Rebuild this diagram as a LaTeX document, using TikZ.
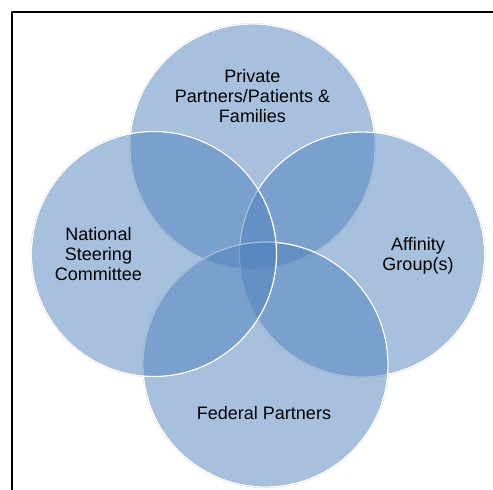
\documentclass[tikz,border=0pt]{standalone}
\usepackage{fontspec}
\setmainfont{Liberation Sans}
\definecolor{vennblue}{RGB}{79,129,189}
\begin{document}
\begin{tikzpicture}[x=1pt,y=-1pt,line join=round,line cap=round]
            \tikzset{label style/.style={font=\fontsize{18}{20}\selectfont,align=center,text=black}}
            \tikzset{ring style/.style={fill=vennblue,fill opacity=0.5}}
            %% khung va ban kinh
            \def \rad{122.5}
            \useasboundingbox (0,0) rectangle (493,490);
            \draw[line width=2pt,line cap=butt] (12,490)--(12,12)--(493,12);
            \coordinate (top) at (252.5,146.5);
            \coordinate (left) at (154,254);
            \coordinate (right) at (362,254.5);
            \coordinate (bottom) at (265.5,364.5);
            \foreach \c in {top,left,right,bottom} \draw[black!20,line width=1.8pt] (\c) circle(\rad);
            \foreach \c in {top,right,bottom,left} {
                \fill[ring style] (\c) circle(\rad);
                \draw[white,line width=1.3pt] (\c) circle(\rad);
            }
            \node[label style] (private) at (252.5,96) {Private\\Partners/Patients \&\\Families};
            \node[label style] (national) at (98.5,254) {National\\Steering\\Committee};
            \node[label style] (affinity) at (418,256) {Affinity\\Group(s)};
            \node[label style] (federal) at (264,413) {Federal Partners};
\end{tikzpicture}
\end{document}
